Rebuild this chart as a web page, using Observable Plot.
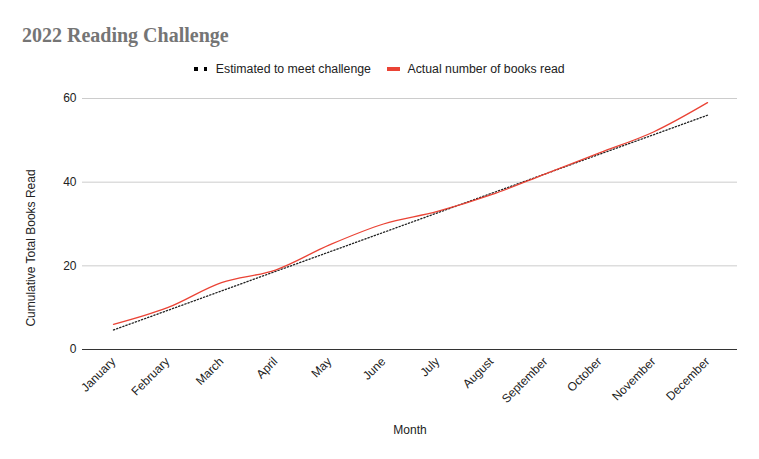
<!DOCTYPE html>
<html>
<head>
<meta charset="utf-8">
<script src="https://cdn.jsdelivr.net/npm/d3@7"></script>
<script src="https://cdn.jsdelivr.net/npm/@observablehq/plot@0.6"></script>
<style>
  html, body { margin: 0; padding: 0; background: #fff; }
  body { width: 759px; height: 459px; overflow: hidden; position: relative; font-family: "Liberation Sans", Arial, sans-serif; }
  #title { position: absolute; left: 22px; top: 24px; font-family: "Liberation Serif", "DejaVu Serif", serif; font-weight: bold; font-size: 20px; color: #757575; white-space: nowrap; }
  #legend { position: absolute; left: 0; top: 62px; width: 759px; display: flex; justify-content: center; align-items: center; font-size: 12.3px; color: #222; white-space: nowrap; }
  .item { display: flex; align-items: center; }
  .item + .item { margin-left: 16.5px; }
  .dots { display: inline-flex; gap: 6px; margin-right: 8.5px; }
  .dots span { width: 3.5px; height: 3.5px; background: #000; display: inline-block; }
  .redsw { width: 13px; height: 4.5px; background: #ea4335; display: inline-block; margin-right: 7px; }
  #chart { position: absolute; left: 0; top: 85px; }
</style>
</head>
<body>
<div id="title">2022 Reading Challenge</div>
<div id="legend">
  <div class="item"><span class="dots"><span></span><span></span></span>Estimated to meet challenge</div>
  <div class="item"><span class="redsw"></span>Actual number of books read</div>
</div>
<div id="chart"></div>
<script>
const months = ["January","February","March","April","May","June","July","August","September","October","November","December"];
const estimated = [4.67, 9.33, 14, 18.67, 23.33, 28, 32.67, 37.33, 42, 46.67, 51.33, 56];
const actual = [6, 10, 16, 19, 25, 30, 33, 37, 42, 47, 52, 59];
const yTicks = [0, 20, 40, 60];

const estData = months.map((m, i) => ({month: m, value: estimated[i]}));
const actData = months.map((m, i) => ({month: m, value: actual[i]}));

const plot = Plot.plot({
  width: 759,
  height: 374,
  marginLeft: 82,
  marginRight: 22,
  marginTop: 13,
  marginBottom: 110,
  style: {fontFamily: "'Liberation Sans', Arial, sans-serif", fontSize: "12px", color: "#222", background: "#fff"},
  x: {type: "point", domain: months, padding: 0.5},
  y: {domain: [0, 60]},
  marks: [
    Plot.gridY(yTicks, {stroke: "#cccccc", strokeOpacity: 1, strokeWidth: 1}),
    Plot.axisY(yTicks, {tickSize: 0, tickPadding: 6, label: null, fill: "#222", fontSize: 12}),
    Plot.axisX({tickSize: 0, tickPadding: 10, tickRotate: -45, label: null, fill: "#222", fontSize: 12}),
    Plot.ruleY([0], {stroke: "#333", strokeWidth: 1.2}),
    Plot.line(estData, {x: "month", y: "value", stroke: "#222", strokeWidth: 1.3, strokeDasharray: "1.3,2"}),
    Plot.line(actData, {x: "month", y: "value", stroke: "#ea4335", strokeWidth: 1.3, curve: "catmull-rom"}),
    Plot.text(["Cumulative Total Books Read"], {frameAnchor: "left", textAnchor: "middle", dx: -51, dy: 24, rotate: -90, fill: "#222", fontSize: 12}),
    Plot.text(["Month"], {frameAnchor: "bottom", dy: 84, fill: "#222", fontSize: 12})
  ]
});
document.getElementById("chart").appendChild(plot);
</script>
</body>
</html>
